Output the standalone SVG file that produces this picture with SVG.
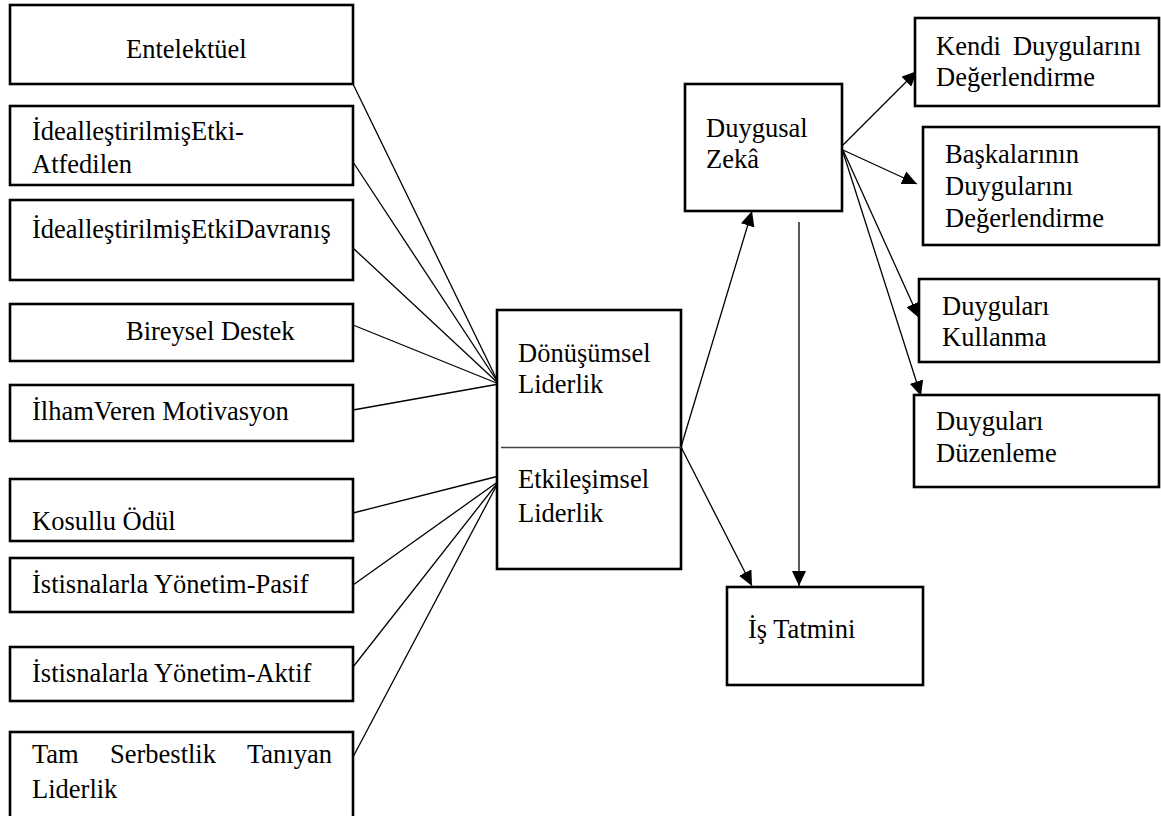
<svg xmlns="http://www.w3.org/2000/svg" width="1161" height="816" viewBox="0 0 1161 816">
<style>
.box{fill:#fff;stroke:#000;stroke-width:2.6}
.t{font-family:"Liberation Serif","Times New Roman",serif;font-size:26.5px;fill:#000}
.c{stroke:#000;stroke-width:1.3;fill:none}
.a{marker-end:url(#arr)}
</style>
<defs>
<marker id="arr" markerUnits="userSpaceOnUse" markerWidth="16" markerHeight="14" refX="15" refY="7" orient="auto">
<path d="M0,0 L15,7 L0,14 z" fill="#000"/>
</marker>
</defs>
<rect width="1161" height="816" fill="#fff"/>
<g id="connectors">
<line class="c" x1="353" y1="84" x2="499" y2="384"/>
<line class="c" x1="353" y1="162" x2="499" y2="384"/>
<line class="c" x1="353" y1="248" x2="499" y2="384"/>
<line class="c" x1="353" y1="325" x2="499" y2="384"/>
<line class="c" x1="353" y1="410" x2="499" y2="384"/>
<line class="c" x1="353" y1="513" x2="499" y2="476"/>
<line class="c" x1="353" y1="585" x2="499" y2="481"/>
<line class="c" x1="353" y1="667" x2="499" y2="481"/>
<line class="c" x1="353" y1="757" x2="499" y2="481"/>
<line class="c a" x1="681" y1="447" x2="752" y2="211"/>
<line class="c a" x1="681" y1="447" x2="752" y2="586"/>
<line class="c a" x1="799" y1="222" x2="799" y2="586"/>
<line class="c a" x1="843" y1="145" x2="917" y2="71"/>
<line class="c a" x1="843" y1="150" x2="917" y2="184"/>
<line class="c a" x1="843" y1="150" x2="919" y2="318"/>
<line class="c a" x1="843" y1="152" x2="921" y2="396"/>
</g>
<g id="n-entelektuel"><rect class="box" x="10" y="5" width="343" height="79"/><text class="t" x="126" y="58">Entelektüel</text></g>
<g id="n-ideal-atf"><rect class="box" x="10" y="106" width="343" height="79"/><text class="t" x="32" y="140">İdealleştirilmişEtki-</text><text class="t" x="32" y="173">Atfedilen</text></g>
<g id="n-ideal-dav"><rect class="box" x="10" y="200" width="343" height="80"/><text class="t" x="32" y="238">İdealleştirilmişEtkiDavranış</text></g>
<g id="n-bireysel"><rect class="box" x="10" y="304" width="343" height="57"/><text class="t" x="126" y="340">Bireysel Destek</text></g>
<g id="n-ilham"><rect class="box" x="10" y="385" width="343" height="56"/><text class="t" x="32" y="420">İlhamVeren Motivasyon</text></g>
<g id="n-kosullu"><rect class="box" x="10" y="479" width="343" height="62"/><text class="t" x="32" y="530">Kosullu Ödül</text></g>
<g id="n-pasif"><rect class="box" x="10" y="558" width="343" height="54"/><text class="t" x="32" y="593">İstisnalarla Yönetim-Pasif</text></g>
<g id="n-aktif"><rect class="box" x="10" y="647" width="343" height="54"/><text class="t" x="32" y="682">İstisnalarla Yönetim-Aktif</text></g>
<g id="n-tam"><rect class="box" x="10" y="732" width="343" height="90"/><text class="t" y="763"><tspan x="32">Tam</tspan><tspan x="110">Serbestlik</tspan><tspan x="332" text-anchor="end">Tanıyan</tspan></text><text class="t" x="32" y="798">Liderlik</text></g>
<g id="n-liderlik"><rect class="box" x="497" y="310" width="184" height="259"/><line x1="501" y1="447.5" x2="681" y2="447.5" stroke="#444" stroke-width="1.6"/><text class="t" x="518" y="362">Dönüşümsel</text><text class="t" x="518" y="393">Liderlik</text><text class="t" x="518" y="488">Etkileşimsel</text><text class="t" x="518" y="522">Liderlik</text></g>
<g id="n-duygusal"><rect class="box" x="685" y="84" width="157" height="127"/><text class="t" x="706" y="137">Duygusal</text><text class="t" x="706" y="168">Zekâ</text></g>
<g id="n-kendi"><rect class="box" x="915" y="18" width="244" height="88"/><text class="t" y="55"><tspan x="936">Kendi</tspan><tspan x="1141" text-anchor="end">Duygularını</tspan></text><text class="t" x="936" y="86">Değerlendirme</text></g>
<g id="n-baskalari"><rect class="box" x="923" y="127" width="236" height="118"/><text class="t" x="945" y="163">Başkalarının</text><text class="t" x="945" y="195">Duygularını</text><text class="t" x="945" y="227">Değerlendirme</text></g>
<g id="n-kullanma"><rect class="box" x="919" y="279" width="240" height="83"/><text class="t" x="942" y="315">Duyguları</text><text class="t" x="942" y="346">Kullanma</text></g>
<g id="n-duzenleme"><rect class="box" x="914" y="395" width="245" height="92"/><text class="t" x="936" y="430">Duyguları</text><text class="t" x="936" y="462">Düzenleme</text></g>
<g id="n-is"><rect class="box" x="727" y="587" width="196" height="98"/><text class="t" x="748" y="638">İş Tatmini</text></g>
</svg>
